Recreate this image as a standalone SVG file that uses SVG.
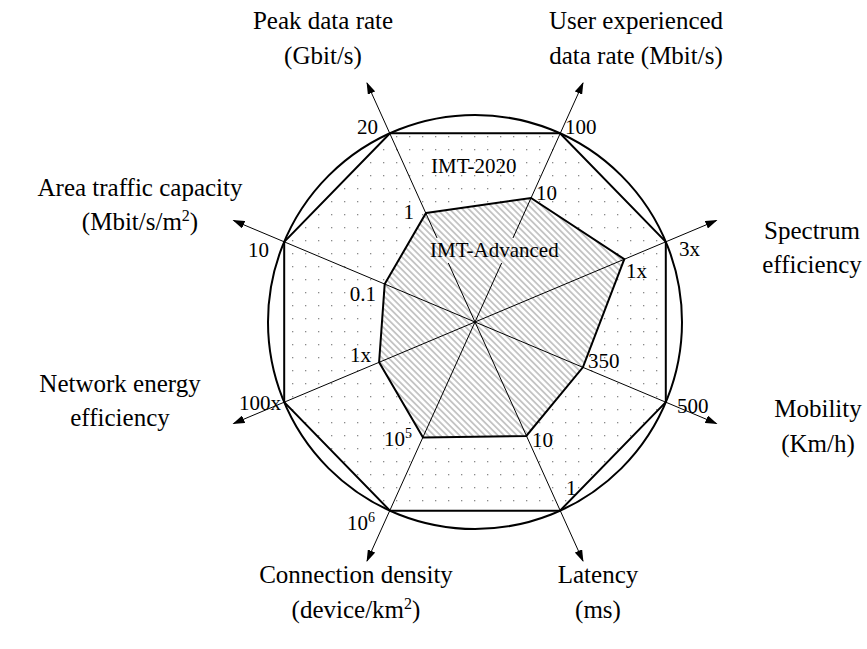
<svg xmlns="http://www.w3.org/2000/svg" width="867" height="649" viewBox="0 0 867 649" font-family="'Liberation Serif', 'Times New Roman', 'DejaVu Serif', serif">
  <style>
    text { font-family: "Liberation Serif", "Times New Roman", serif; fill: #000; }
    .title { font-size: 25px; text-anchor: middle; }
    .val { font-size: 21px; }
    .end { text-anchor: end; }
    .axis { stroke: #000; stroke-width: 1; fill: none; marker-start: url(#arrow); marker-end: url(#arrow); }
    .ring { stroke: #000; stroke-width: 2; fill: none; }
    .poly { stroke: #000; stroke-width: 2; stroke-linejoin: miter; }
  </style>
  <defs>
    <pattern id="dots" width="13" height="13" patternUnits="userSpaceOnUse">
      <rect width="13" height="13" fill="#fff"/>
      <rect x="6" y="6" width="1.3" height="1.3" fill="#8a8a8a"/>
    </pattern>
    <pattern id="hatch" width="4.5" height="4.5" patternUnits="userSpaceOnUse" patternTransform="rotate(45)">
      <rect width="4.5" height="4.5" fill="#fff"/>
      <rect x="0" y="0" width="4.5" height="1.8" fill="#c4c4c4"/>
    </pattern>
    <marker id="arrow" viewBox="0 0 12 8" refX="11" refY="4" markerWidth="12" markerHeight="8" markerUnits="userSpaceOnUse" orient="auto-start-reverse">
      <path d="M0,0 L12,4 L0,8 Z" fill="#000"/>
    </marker>
  </defs>

  <!-- IMT-2020 target octagon -->
  <g id="imt2020">
    <polygon class="poly" fill="url(#dots)" points="390,133.3 560,133.3 665.8,241.8 665.8,402.2 560,510.7 390,510.7 284.2,402.2 284.2,241.8"/>
  </g>

  <!-- IMT-Advanced polygon -->
  <g id="imt-advanced">
    <polygon class="poly" fill="url(#hatch)" points="426,213 531,198 624.3,259.2 582.9,367.3 526.3,436 423,437.4 379.1,362.3 384.7,284.1"/>
  </g>

  <!-- outer circle -->
  <g id="outline">
    <circle class="ring" cx="475" cy="322" r="207"/>
  </g>

  <!-- axes: four lines through the centre, arrow at both ends -->
  <g id="connectors">
    <line class="axis" x1="583" y1="561" x2="367" y2="83"/>
    <line class="axis" x1="367" y1="561" x2="583" y2="83"/>
    <line class="axis" x1="233.5" y1="423.5" x2="716.5" y2="220.5"/>
    <line class="axis" x1="233.5" y1="220.5" x2="716.5" y2="423.5"/>
  </g>

  <!-- series labels -->
  <g id="label-imt2020">
    <text class="val" x="431" y="173">IMT-2020</text>
  </g>
  <g id="label-imt-advanced">
    <rect x="429" y="238" width="136" height="25" fill="url(#hatch)"/>
    <text class="val" x="430" y="257">IMT-Advanced</text>
  </g>

  <!-- axis values -->
  <g id="values">
    <text class="val end" x="378" y="134">20</text>
    <text class="val end" x="414" y="219">1</text>
    <text class="val" x="565" y="134">100</text>
    <text class="val" x="536" y="200">10</text>
    <text class="val" x="679" y="256">3x</text>
    <text class="val" x="626" y="278">1x</text>
    <text class="val" x="677" y="413">500</text>
    <text class="val" x="588" y="368">350</text>
    <text class="val" x="532" y="447">10</text>
    <text class="val" x="566" y="495">1</text>
    <text class="val end" x="412" y="446">10<tspan font-size="14" dy="-8">5</tspan></text>
    <text class="val end" x="375" y="530">10<tspan font-size="14" dy="-8">6</tspan></text>
    <text class="val end" x="371" y="362">1x</text>
    <text class="val end" x="281" y="410">100x</text>
    <text class="val end" x="376" y="301">0.1</text>
    <text class="val end" x="269" y="257">10</text>
  </g>

  <!-- axis titles -->
  <g id="axis-peak">
    <text class="title" x="323" y="29">Peak data rate</text>
    <text class="title" x="323" y="64">(Gbit/s)</text>
  </g>
  <g id="axis-user">
    <text class="title" x="636" y="29">User experienced</text>
    <text class="title" x="636" y="64">data rate (Mbit/s)</text>
  </g>
  <g id="axis-spectrum">
    <text class="title" x="812" y="239">Spectrum</text>
    <text class="title" x="812" y="273">efficiency</text>
  </g>
  <g id="axis-mobility">
    <text class="title" x="818" y="417">Mobility</text>
    <text class="title" x="818" y="452">(Km/h)</text>
  </g>
  <g id="axis-latency">
    <text class="title" x="598" y="583">Latency</text>
    <text class="title" x="598" y="618">(ms)</text>
  </g>
  <g id="axis-density">
    <text class="title" x="356" y="583">Connection density</text>
    <text class="title" x="356" y="618">(device/km<tspan font-size="16" dy="-9">2</tspan><tspan dy="9">)</tspan></text>
  </g>
  <g id="axis-energy">
    <text class="title" x="120" y="392">Network energy</text>
    <text class="title" x="120" y="426">efficiency</text>
  </g>
  <g id="axis-area">
    <text class="title" x="140" y="196">Area traffic capacity</text>
    <text class="title" x="140" y="230">(Mbit/s/m<tspan font-size="16" dy="-9">2</tspan><tspan dy="9">)</tspan></text>
  </g>
</svg>
